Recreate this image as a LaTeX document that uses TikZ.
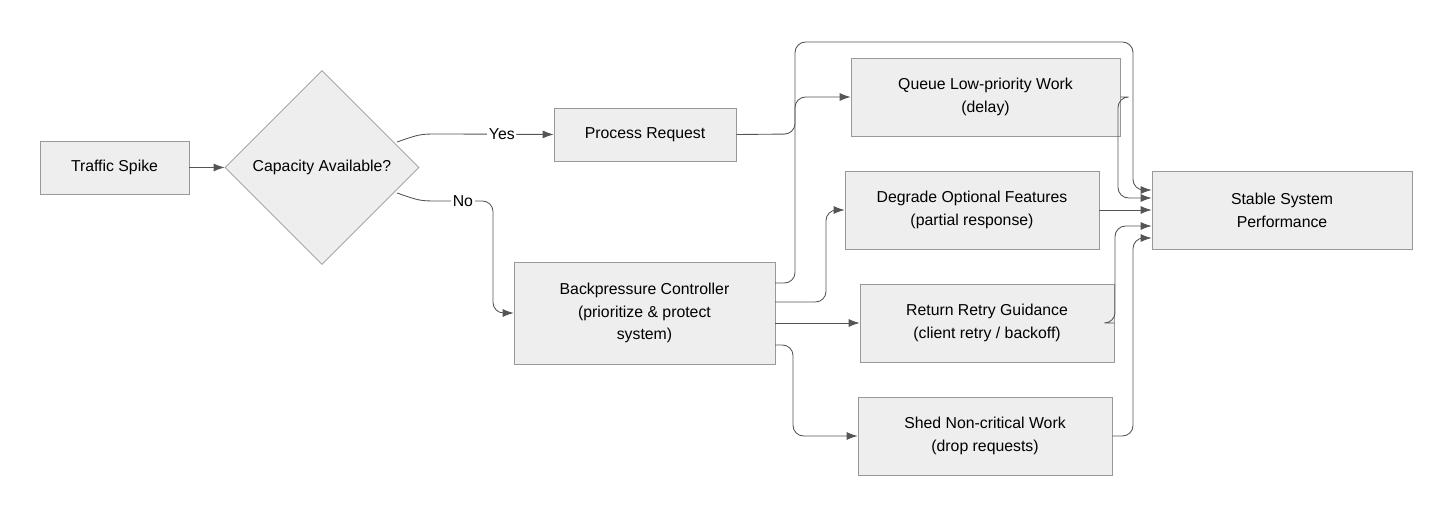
\documentclass[tikz,border=0pt]{standalone}
\usepackage{fontspec}
\setmainfont{Liberation Sans}
\usetikzlibrary{shapes.geometric,arrows.meta}
\definecolor{boxfill}{HTML}{EEEEEE}
\definecolor{boxline}{HTML}{999999}
\definecolor{linkcol}{HTML}{555555}
\tikzstyle{task} = [draw=boxline, fill=boxfill, rectangle, align=center, font=\fontsize{9}{13}\selectfont, inner sep=0pt]
\tikzstyle{check} = [draw=boxline, fill=boxfill, diamond, aspect=1, align=center, font=\fontsize{9}{13}\selectfont, inner sep=0pt, minimum width=194*0.02cm, minimum height=194*0.02cm]
\tikzstyle{link} = [-{Latex[length=2.2mm,width=1.6mm]}, draw=linkcol, line width=0.5pt, rounded corners=6pt]
\tikzstyle{tag} = [fill=white, inner sep=1pt, font=\fontsize{9}{11}\selectfont]

\begin{document}
\begin{tikzpicture}[x=0.02cm, y=-0.02cm]
  \useasboundingbox (0,0) rectangle (1452,516);
  \node at (114.5,167.5) (spike) [task, minimum width=149*0.02cm, minimum height=53*0.02cm] {Traffic Spike};
  \node at (322,167.5) (cap) [check] {Capacity Available?};
  \node at (645,134.5) (proc) [task, minimum width=182*0.02cm, minimum height=53*0.02cm] {Process Request};
  \node at (644.5,313) (bp) [task, minimum width=261*0.02cm, minimum height=102*0.02cm] {Backpressure Controller\\(prioritize \& protect\\system)};
  \node at (985.5,97) (queue) [task, minimum width=269*0.02cm, minimum height=78*0.02cm] {Queue Low-priority Work\\(delay)};
  \node at (972,210) (degr) [task, minimum width=254*0.02cm, minimum height=78*0.02cm] {Degrade Optional Features\\(partial response)};
  \node at (987,323) (retry) [task, minimum width=254*0.02cm, minimum height=78*0.02cm] {Return Retry Guidance\\(client retry / backoff)};
  \node at (985,436) (shed) [task, minimum width=254*0.02cm, minimum height=78*0.02cm] {Shed Non-critical Work\\(drop requests)};
  \node at (1282,210) (stable) [task, minimum width=260*0.02cm, minimum height=78*0.02cm] {Stable System\\Performance};

  \draw[link] (spike) -- (cap);
  \draw[link] (397,142) .. controls (420,134) .. (450,134) -- node[tag] {Yes} (proc.west);
  \draw[link] (397,193) .. controls (420,201) .. (450,201) -- node[tag, pos=0.3] {No} (493,201) -- (493,313) -- (bp.west);
  \draw[link] (proc.east) -- (795,134) -- (795,42) -- (1133,42) -- (1133,190) -- (stable.west |- 0,190);
  \draw[link] (775,283) -- (795,283) -- (795,97) -- (queue.west);
  \draw[link] (775,302) -- (826,302) -- (826,210) -- (degr.west);
  \draw[link] (bp.east |- retry) -- (retry.west);
  \draw[link] (775,345) -- (793,345) -- (793,436) -- (shed.west);
  \draw[link] (queue.east) -- (1118,97) -- (1118,198) -- (stable.west |- 0,198);
  \draw[link] (degr.east) -- (stable.west |- degr);
  \draw[link] (retry.east) -- (1115,323) -- (1115,226) -- (stable.west |- 0,226);
  \draw[link] (shed.east) -- (1133,436) -- (1133,238) -- (stable.west |- 0,238);
\end{tikzpicture}
\end{document}
